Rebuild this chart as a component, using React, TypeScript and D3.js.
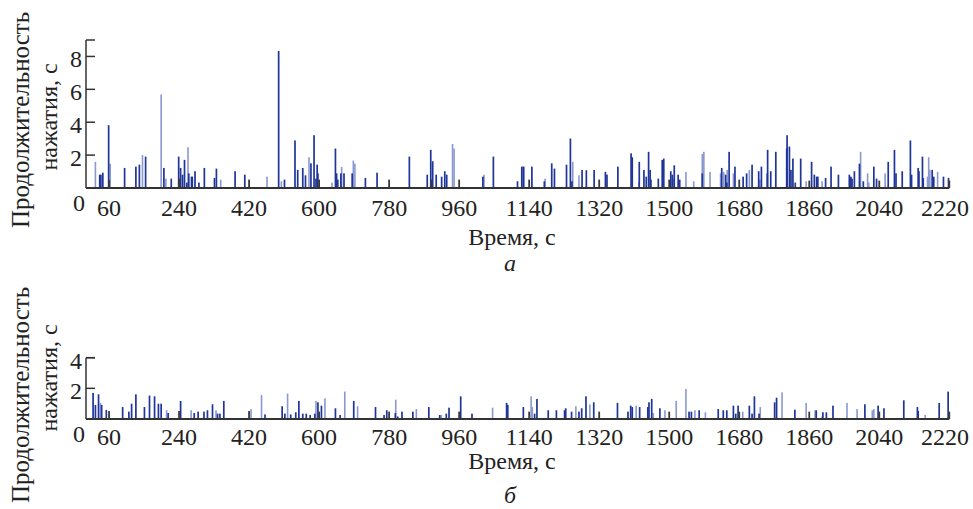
import React from "react";
import * as d3 from "d3";

// ---------- data (time in s, press duration in s) ----------
const xTicks = [60, 240, 420, 600, 780, 960, 1140, 1320, 1500, 1680, 1860, 2040, 2220];
const yTicksA = [2, 4, 6, 8];
const yTicksB = [2, 4];

const aDark: [number, number][] = [
  [36,0.81],[39,0.81],[44,0.93],[59,3.82],[100,1.22],[129,1.3],[138,1.42],[154,1.91],[201,1.22],[220,0.57],[239,1.91],[244,1.22],[249,0.81],[254,1.71],[260,0.33],[265,0.89],[272,0.69],[274,0.69],[281,1.02],[291,0.33],[305,1.22],[331,0.61],[336,1.18],[384,1.02],[409,0.81],[496,8.33],[511,0.51],[538,2.89],[545,1.1],[558,1.22],[565,0.77],[579,1.5],[587,3.21],[592,0.57],[595,1.42],[597,0.89],[642,2.4],[645,0.89],[648,0.51],[656,0.89],[664,0.89],[685,0.89],[719,0.61],[749,0.93],[832,1.91],[878,0.81],[887,2.32],[892,1.63],[901,0.81],[915,0.69],[923,1.02],[928,0.81],[1021,0.69],[1048,1.91],[1110,0.41],[1121,1.3],[1125,1.3],[1147,1.3],[1179,0.41],[1198,1.5],[1205,1.18],[1236,1.42],[1246,3.01],[1250,0.41],[1276,1.1],[1287,1.08],[1307,1.1],[1336,0.98],[1340,0.81],[1368,1.3],[1402,2.11],[1405,1.87],[1423,1.59],[1435,1.1],[1441,0.69],[1447,2.2],[1451,1.1],[1453,0.51],[1472,0.57],[1482,1.71],[1486,1.79],[1504,1.02],[1508,0.81],[1513,1.38],[1523,0.81],[1527,0.51],[1585,0.89],[1635,1.22],[1645,0.81],[1648,0.33],[1654,2.2],[1669,1.3],[1690,0.69],[1699,0.89],[1713,1.42],[1730,1.02],[1737,1.3],[1752,0.89],[1753,2.32],[1761,1.02],[1774,2.2],[1802,2.4],[1803,3.21],[1809,2.52],[1813,1.1],[1818,1.79],[1824,0.33],[1838,1.79],[1866,1.59],[1873,0.81],[1879,0.69],[1882,0.69],[1902,0.61],[1916,1.3],[1935,0.81],[1963,0.81],[1967,0.69],[1970,0.57],[1976,1.02],[1989,1.48],[1999,0.41],[2026,1.3],[2033,0.57],[2063,1.59],[2079,2.32],[2083,0.89],[2099,1.02],[2120,2.89],[2123,0.81],[2140,1.22],[2142,1.02],[2151,1.91],[2153,0.61],[2176,1.1],[2180,0.69],[2205,0.69],[2218,0.61]
];
const aLight: [number, number][] = [
  [25,1.59],[63,1.48],[146,2.0],[194,5.69],[206,0.57],[263,2.48],[347,0.51],[466,0.69],[503,0.41],[574,1.87],[633,0.33],[658,1.28],[688,1.67],[692,1.48],[943,2.68],[947,2.4],[1024,0.81],[1127,1.3],[1181,0.57],[1252,1.59],[1268,0.77],[1422,0.33],[1511,0.57],[1543,0.98],[1563,0.41],[1585,2.07],[1589,2.2],[1605,0.98],[1632,0.89],[1640,0.98],[1649,1.1],[1665,0.89],[1706,1.1],[1733,0.51],[1852,0.41],[1893,0.41],[1992,2.2],[2010,0.89],[2013,0.33],[2055,0.89],[2164,0.69],[2167,1.87],[2170,1.1],[2190,0.98]
];
const aGray: [number, number][] = [
  [60,0.5],[240,0.57],[420,0.51],[600,0.51],[780,0.51],[889,0.51],[960,0.51],[1140,0.51],[1320,0.51],[1500,0.51],[1680,0.51],[1860,0.45],[2040,0.45],[2220,0.45]
];

const bDark: [number, number][] = [
  [19,1.7],[25,0.92],[33,1.61],[41,0.92],[53,0.59],[95,0.78],[111,0.48],[118,1.0],[129,1.61],[151,0.78],[164,1.53],[177,1.48],[187,1.0],[194,1.0],[212,0.39],[244,1.18],[279,0.39],[289,0.48],[304,0.48],[313,0.57],[326,0.96],[339,0.35],[345,0.35],[355,1.18],[461,0.3],[505,0.83],[512,0.35],[527,0.3],[540,0.44],[548,1.18],[558,0.35],[567,0.35],[577,0.26],[589,0.35],[597,1.09],[606,0.87],[642,0.7],[654,0.26],[689,1.18],[745,0.78],[767,0.26],[774,0.57],[796,0.39],[802,0.17],[813,0.48],[841,0.48],[882,0.78],[910,0.26],[927,0.35],[934,0.74],[964,1.48],[993,0.35],[1082,1.05],[1085,0.92],[1125,0.78],[1154,0.35],[1160,1.31],[1189,0.57],[1210,0.57],[1231,0.57],[1234,0.7],[1249,0.48],[1268,0.48],[1275,0.7],[1286,1.48],[1306,1.09],[1367,1.05],[1394,0.48],[1401,0.87],[1405,0.78],[1424,0.78],[1445,0.78],[1448,1.09],[1455,1.31],[1476,0.7],[1551,0.48],[1557,0.48],[1577,0.57],[1626,0.65],[1639,0.57],[1648,0.57],[1665,0.87],[1671,0.35],[1677,0.87],[1706,0.87],[1713,0.35],[1719,1.48],[1731,0.35],[1771,1.09],[1776,1.39],[1823,0.61],[1878,0.57],[1895,0.44],[1904,0.44],[1921,0.87],[2003,0.96],[2037,0.87],[2052,0.7],[2103,1.22],[2138,0.78],[2140,0.52],[2194,1.05],[2217,1.79]
];
const bLight: [number, number][] = [
  [38,1.05],[208,0.57],[271,0.57],[335,0.57],[425,0.65],[452,1.57],[519,1.66],[592,1.18],[615,1.35],[666,1.79],[699,0.83],[797,1.26],[850,0.65],[914,0.26],[1046,0.74],[1145,1.48],[1148,0.78],[1260,0.83],[1296,0.96],[1415,0.87],[1459,0.39],[1489,0.57],[1518,1.18],[1543,1.96],[1566,0.57],[1593,0.44],[1689,0.48],[1734,0.78],[1790,1.74],[1852,1.05],[1875,0.57],[1893,0.17],[1957,1.05],[1983,0.65],[2022,0.57],[2026,0.65],[2158,0.26]
];
const bGray: [number, number][] = [
  [60,0.52],[240,0.52],[420,0.52],[600,0.48],[780,0.48],[960,0.48],[1140,0.48],[1320,0.48],[1500,0.48],[1680,0.48],[1860,0.48],[2040,0.48],[2220,0.48]
];

// ---------- layout ----------
const W = 973, H = 509;
const FONT = "'Liberation Serif', 'Times New Roman', serif";
const AXIS_X = 86;
const DARK = "#1f3598";
const LIGHT = "#8a98d0";
const GRAY = "#3a3a3a";
const INK = "#222";

const x = d3.scaleLinear().domain([0, 2220]).range([85.7, 949.3]);

type PanelProps = {
  yScale: d3.ScaleLinear<number, number>;
  yTop: number;
  ticks: number[];
  dark: [number, number][];
  light: [number, number][];
  gray: [number, number][];
  tickBase: number;
  zeroBase: number;
  titleBase: number;
  letter: string;
  letterBase: number;
  yl1: number;
  yl2: number;
};

function Panel(p: PanelProps) {
  const y0 = p.yScale(0);
  const bar = (d: [number, number], i: number, fill: string, w: number) => (
    <rect key={i} x={x(d[0]) - w / 2} y={p.yScale(d[1])} width={w} height={y0 - p.yScale(d[1])} fill={fill} />
  );
  return (
    <g>
      {p.light.map((d, i) => bar(d, i, LIGHT, 1.6))}
      {p.dark.map((d, i) => bar(d, i, DARK, 1.7))}
      {p.gray.map((d, i) => bar(d, i, GRAY, 1.8))}
      {/* axes */}
      <line x1={AXIS_X} x2={AXIS_X} y1={p.yTop} y2={y0} stroke="#333" strokeWidth={1.5} />
      <line x1={AXIS_X} x2={x(2220)} y1={y0} y2={y0} stroke="#333" strokeWidth={2} />
      <line x1={AXIS_X} x2={AXIS_X + 9} y1={p.yTop} y2={p.yTop} stroke="#333" strokeWidth={1.5} />
      {p.ticks.map((t) => (
        <g key={t}>
          <line x1={AXIS_X} x2={AXIS_X + 9} y1={p.yScale(t)} y2={p.yScale(t)} stroke="#333" strokeWidth={1.5} />
          <text x={82} y={p.yScale(t) + 11} textAnchor="end" fontSize={24} fontFamily={FONT} fill={INK}>{t}</text>
        </g>
      ))}
      <text x={85} y={p.zeroBase} textAnchor="end" fontSize={24} fontFamily={FONT} fill={INK}>0</text>
      {xTicks.map((t) => (
        <text key={t} x={Math.min(x(t), 945)} y={p.tickBase} textAnchor="middle" fontSize={24} fontFamily={FONT} fill={INK}>{t}</text>
      ))}
      <text x={512} y={p.titleBase} textAnchor="middle" fontSize={24} fontFamily={FONT} fill={INK}>Время, с</text>
      <text x={510} y={p.letterBase} textAnchor="middle" fontSize={24} fontStyle="italic" fontFamily={FONT} fill={INK}>{p.letter}</text>
      <text transform={`translate(29,${p.yl1}) rotate(-90)`} textAnchor="middle" fontSize={25} fontFamily={FONT} fill={INK}>Продолжительность</text>
      <text transform={`translate(57,${p.yl2}) rotate(-90)`} textAnchor="middle" fontSize={24} fontFamily={FONT} fill={INK}>нажатия, с</text>
    </g>
  );
}

export default function App() {
  const yA = d3.scaleLinear().domain([0, 9]).range([188, 40]);
  const yB = d3.scaleLinear().domain([0, 4]).range([419, 357.7]);
  return (
    <svg width={W} height={H} style={{ position: "absolute", left: 0, top: 0, background: "#fff" }}>
      <rect width={W} height={H} fill="#fff" />
      <Panel yScale={yA} yTop={yA(9)} ticks={yTicksA} dark={aDark} light={aLight} gray={aGray}
        tickBase={216} zeroBase={211} titleBase={245} letter="а" letterBase={271} yl1={120} yl2={117} />
      <Panel yScale={yB} yTop={yB(4)} ticks={yTicksB} dark={bDark} light={bLight} gray={bGray}
        tickBase={445} zeroBase={442} titleBase={469} letter="б" letterBase={503} yl1={395} yl2={378} />
    </svg>
  );
}
